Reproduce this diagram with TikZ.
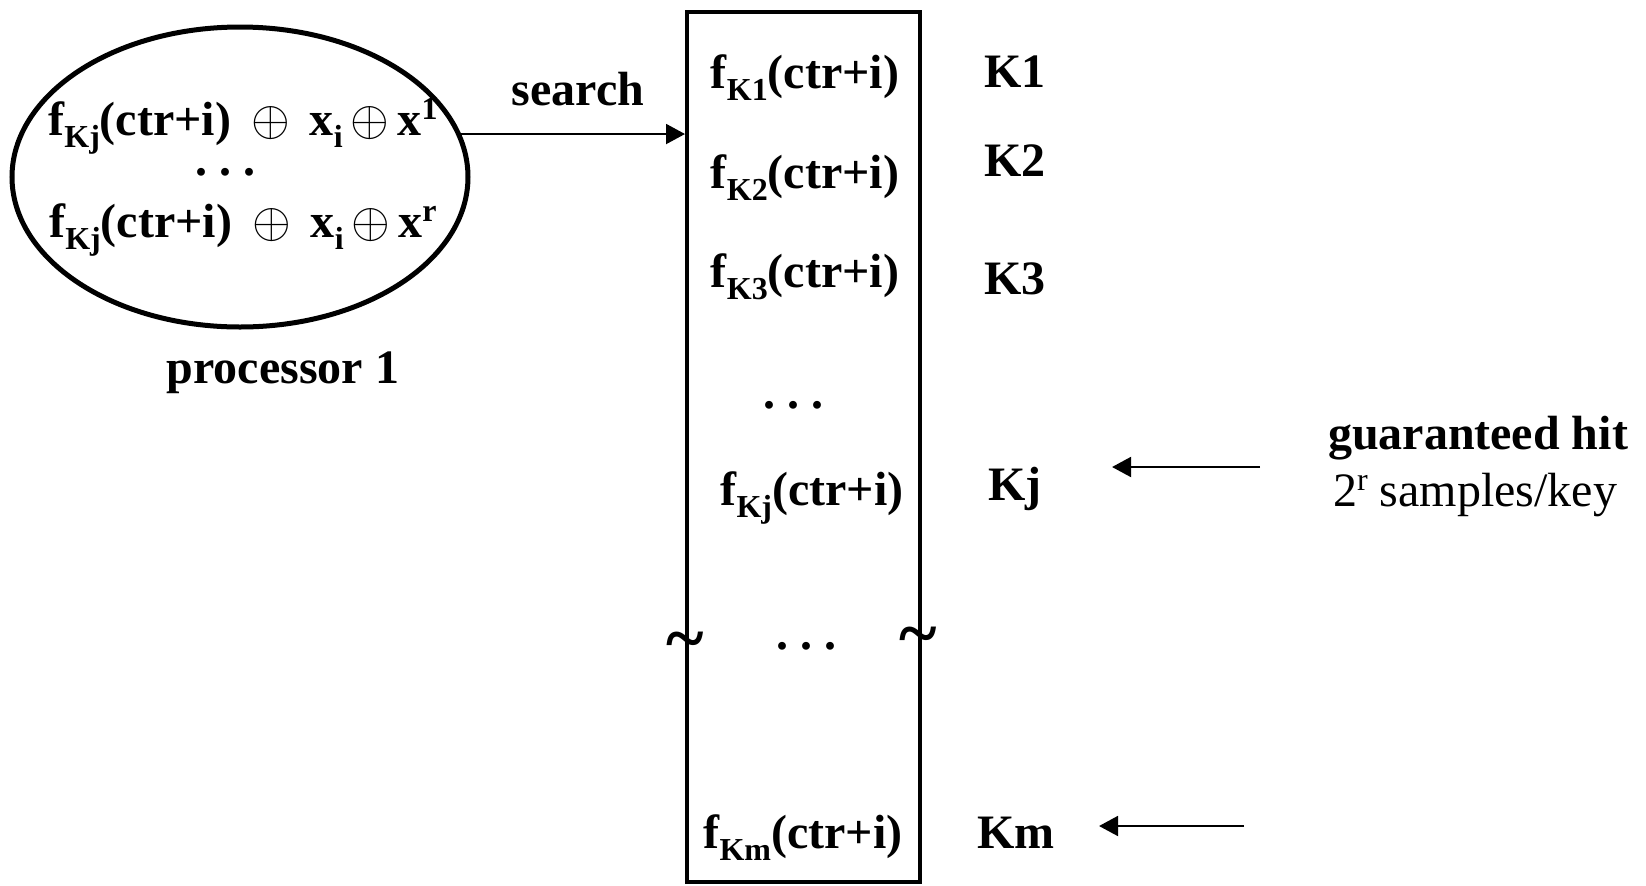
\documentclass[tikz,border=0pt]{standalone}
\usepackage{fontspec}
\setmainfont{Liberation Serif}
\usetikzlibrary{shapes.geometric,arrows.meta,positioning}

\newcommand{\fsub}[1]{\raisebox{-0.26em}{\fontsize{16}{16}\selectfont #1}}
\newcommand{\fsup}[1]{\raisebox{0.33em}{\fontsize{16}{16}\selectfont #1}}
\newcommand{\fx}{\,$\oplus$\,}

\begin{document}
\begin{tikzpicture}[x=0.5pt, y=-0.5pt, every node/.style={inner sep=0pt, font=\fontsize{24}{28}\selectfont\bfseries},
    entry/.style={anchor=base}, key/.style={anchor=base},
    arr/.style={-{Triangle[length=9.5pt,width=10pt]}, line width=1pt},
    wave/.style={anchor=base, font=\fontsize{36}{36}\selectfont\bfseries}]
\useasboundingbox (0,0) rectangle (1646,885);

\node (proc) [draw, ellipse, line width=2.5pt, minimum width=228pt, minimum height=150pt] at (240,177) {};
\node (line1) [anchor=base] at (243,135) {f\fsub{Kj}(ctr+i) \fx\ x\fsub{i}\fx x\fsup{1}};
\node (pdots) at (225,172) {.\ .\ .};
\node (line2) [anchor=base] at (243,237) {f\fsub{Kj}(ctr+i) \fx\ x\fsub{i}\fx x\fsup{r}};
\node (plabel) [anchor=base] at (283,383) {processor 1};

\node (tab) [draw, line width=2pt, minimum width=116.5pt, minimum height=435pt] at (803.5,447) {};
\node (fk1) [entry] at (805,88) {f\fsub{K1}(ctr+i)};
\node (fk2) [entry] at (805,188) {f\fsub{K2}(ctr+i)};
\node (fk3) [entry] at (805,287) {f\fsub{K3}(ctr+i)};
\node (tdots1) at (793,405) {.\ .\ .};
\node (fkj) [entry] at (812,505) {f\fsub{Kj}(ctr+i)};
\node (tdots2) at (806,646) {.\ .\ .};
\node (fkm) [entry] at (803,848) {f\fsub{Km}(ctr+i)};
\node (wl) [wave] at (tab.west |- 0,662) {\textasciitilde};
\node (wr) [wave] at (918,657) {\textasciitilde};

\node (k1) [key] at (1015,87) {K1};
\node (k2) [key] at (1015,176) {K2};
\node (k3) [key] at (1015,294) {K3};
\node (kj) [key] at (1015,500) {Kj};
\node (km) [key] at (1016,848) {Km};

\node (search) [anchor=base] at (578,105) {search};
\node (hit) [anchor=base] at (1478,449) {guaranteed hit};
\node (samples) [anchor=base, font=\fontsize{24}{28}\selectfont] at (1475,506) {2\fsup{r} samples/key};

\coordinate (jtail) at (1260,467);
\coordinate (mtail) at (1244,826);

\draw [arr] (proc.11) -- (proc.11 -| tab.west);
\draw [arr, shorten >=35pt] (jtail) -- (jtail -| kj.east);
\draw [arr, shorten >=22pt] (mtail) -- (mtail -| km.east);
\end{tikzpicture}
\end{document}
